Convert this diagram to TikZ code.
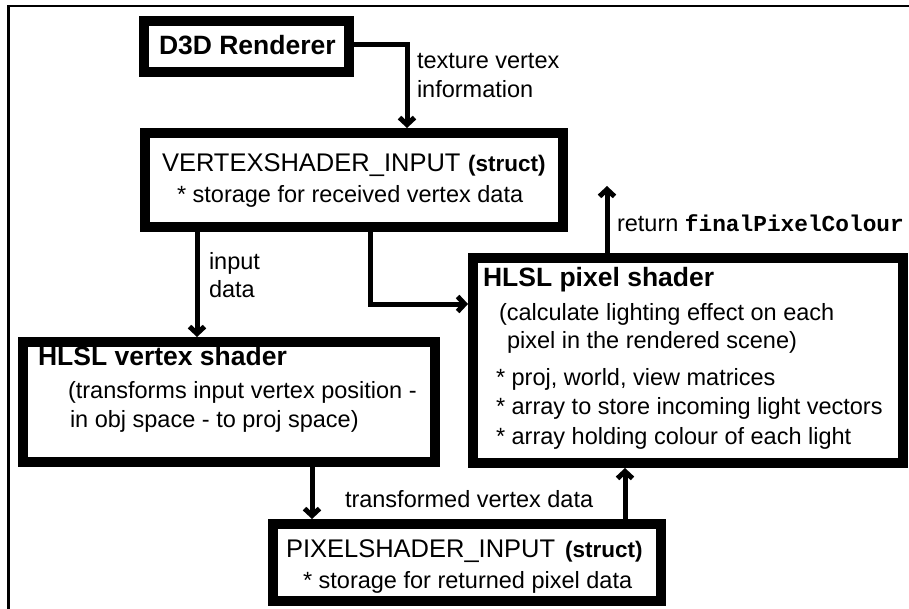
\documentclass[tikz,border=0pt]{standalone}
\usepackage{fontspec}
\setmainfont{Liberation Sans}
\newfontfamily\codefont{Liberation Mono}
\usetikzlibrary{arrows.meta}

% font sizes (1pt = 1 unit of the drawing grid)
\newcommand{\bodyfont}{\fontsize{23.5}{28}\selectfont}
\newcommand{\titlefont}{\fontsize{25.5}{30}\selectfont}
\newcommand{\titleboldfont}{\fontsize{26.5}{30}\selectfont\bfseries}
\newcommand{\tagfont}{\fontsize{22.5}{26}\selectfont\bfseries}
\newcommand{\monofont}{\fontsize{22.8}{26}\selectfont\codefont\bfseries}

\tikzset{
  box/.style={draw=black, line width=10pt, fill=white, inner sep=0pt,
              rectangle, line join=miter},
  txt/.style={anchor=base west, inner sep=0pt, outer sep=0pt},
  conn/.style={line width=5pt, line join=miter,
               -{Straight Barb[length=7pt, width=15pt, line join=miter]}},
}

\begin{document}
\begin{tikzpicture}[x=1pt, y=-1pt]
\useasboundingbox (0,0) rectangle (909,609);
\fill[white] (0,0) rectangle (909,609);

% outer frame (only the top and left edges lie inside the page)
\draw[line width=2.5pt] (8.7,609) -- (8.7,6) -- (909,6);

% boxes
\node[box, minimum width=205pt, minimum height=51pt]  (d3d)  at (246.5,46.5) {};
\node[box, minimum width=418pt, minimum height=94pt]  (vsin) at (354,180) {};
\node[box, minimum width=412pt, minimum height=120pt] (vs)   at (229,402) {};
\node[box, minimum width=430pt, minimum height=205pt] (ps)   at (688,360.5) {};
\node[box, minimum width=388pt, minimum height=77pt]  (psin) at (467,562.5) {};

% box texts
\node[txt, font=\titleboldfont] (d3dT) at (159,55) {D3D Renderer};

\node[txt, font=\titlefont] (vsinT) at (162,172) {VERTEXSHADER\_INPUT};
\node[txt, font=\tagfont]   (vsinS) at (468,172) {(struct)};
\node[txt, font=\bodyfont]  (vsinB) at (177,203) {* storage for received vertex data};

\node[txt, font=\titleboldfont] (vsT)  at (38,365) {HLSL vertex shader};
\node[txt, font=\bodyfont]      (vsB1) at (68,398) {(transforms input vertex position -};
\node[txt, font=\bodyfont]      (vsB2) at (70,427) {in obj space - to proj space)};

\node[txt, font=\titleboldfont] (psT)  at (483,287) {HLSL pixel shader};
\node[txt, font=\bodyfont]      (psB1) at (499,320) {(calculate lighting effect on each};
\node[txt, font=\bodyfont]      (psB2) at (507,348) {pixel in the rendered scene)};
\node[txt, font=\bodyfont]      (psB3) at (496,385) {* proj, world, view matrices};
\node[txt, font=\bodyfont]      (psB4) at (496,414) {* array to store incoming light vectors};
\node[txt, font=\bodyfont]      (psB5) at (496,444) {* array holding colour of each light};

\node[txt, font=\titlefont] (psinT) at (286,557) {PIXELSHADER\_INPUT};
\node[txt, font=\tagfont]   (psinS) at (565,557) {(struct)};
\node[txt, font=\bodyfont]  (psinB) at (303,588) {* storage for returned pixel data};

% bend points and connector columns
\coordinate (k1) at (407,45);
\coordinate (k2) at (197,0);
\coordinate (k3) at (370,304);
\coordinate (k4) at (312,0);
\coordinate (k5) at (625,0);
\coordinate (k6) at (607,186);

% connectors
\draw[conn] (d3d.east |- k1) -| (vsin.north -| k1);
\draw[conn] (vsin.south -| k2) -- (vs.north -| k2);
\draw[conn] (vsin.south -| k3) |- (ps.west |- k3);
\draw[conn] (vs.south -| k4) -- (psin.north -| k4);
\draw[conn] (psin.north -| k5) -- (ps.south -| k5);
\draw[conn] (ps.north -| k6) -- (k6);

% connector labels
\node[txt, font=\bodyfont] (l1a) at (417,69) {texture vertex};
\node[txt, font=\bodyfont] (l1b) at (417,98) {information};
\node[txt, font=\bodyfont] (l2a) at (209,270) {input};
\node[txt, font=\bodyfont] (l2b) at (209,298) {data};
\node[txt, font=\bodyfont] (l4)  at (345,507) {transformed vertex data};
\node[txt, font=\bodyfont] (l6)  at (617,232) {return {\monofont finalPixelColour}};
\end{tikzpicture}
\end{document}
